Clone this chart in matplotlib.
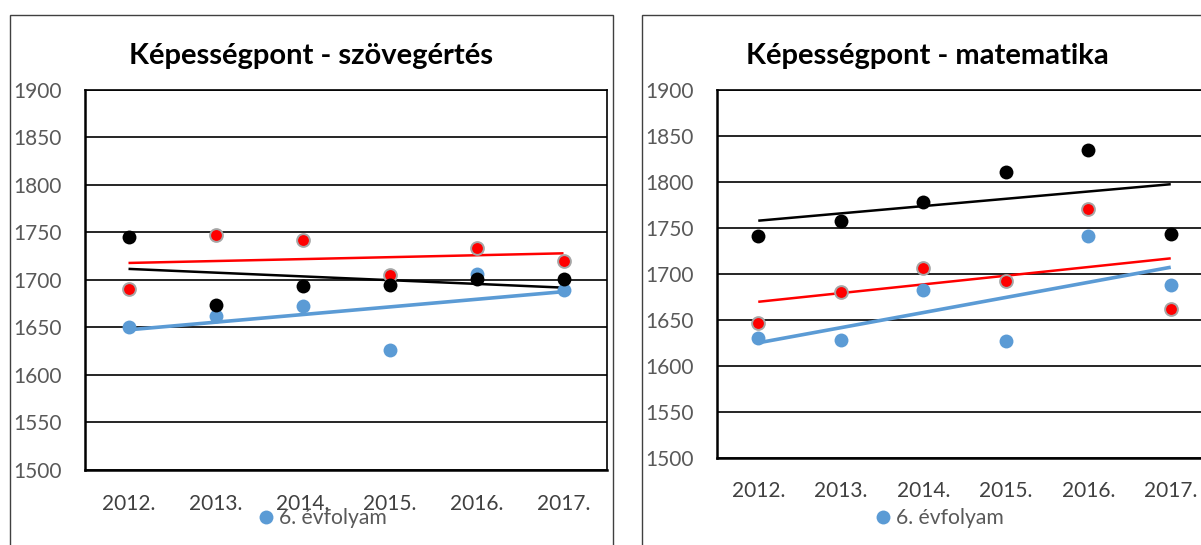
import numpy as np
import matplotlib
matplotlib.use('Agg')
import matplotlib.pyplot as plt
from matplotlib.lines import Line2D
from matplotlib.patches import Rectangle

# Adatok
evek = ['2012.', '2013.', '2014.', '2015.', '2016.', '2017.']

szoveg_6 = [1650, 1662, 1672, 1626, 1706, 1689]
szoveg_8 = [1690, 1747, 1742, 1705, 1733, 1720]
szoveg_10 = [1745, 1674, 1694, 1695, 1701, 1701]

matek_6 = [1630, 1628, 1683, 1627, 1742, 1688]
matek_8 = [1647, 1681, 1707, 1693, 1771, 1662]
matek_10 = [1741, 1758, 1779, 1811, 1835, 1744]

cimek = ['Képességpont - szövegértés', 'Képességpont - matematika']
jelmagyarazat = '6. évfolyam'

KEK = '#5B9BD5'
PIROS = '#FF0000'
FEKETE = '#000000'
SZURKE = '#595959'

plt.rcParams['font.family'] = ['Lato', 'DejaVu Sans']

fig = plt.figure(figsize=(12.01, 5.45), dpi=100)

# keretek (diagramterület)
fig.patches.append(Rectangle((9.5 / 1201, -0.1), (613 - 9.5) / 1201, 1.1 - 15 / 545,
                             transform=fig.transFigure, fill=False, ec='#404040', lw=1.0))
fig.patches.append(Rectangle((642 / 1201, -0.1), 0.6, 1.1 - 15 / 545,
                             transform=fig.transFigure, fill=False, ec='#404040', lw=1.0))

ax1 = fig.add_axes([85 / 1201, 1 - 470 / 545, 522 / 1201, (470 - 89.7) / 545])
ax2 = fig.add_axes([717 / 1201, 1 - 457.8 / 545, 495 / 1201, (457.8 - 90.4) / 545])


def rajzol(ax, s6, s8, s10, cim, cim_x, leg_x):
    x = np.arange(len(evek))
    # trendvonalak (lineáris illesztés, mint az Excelben)
    for adat, szin, vastag in [(s6, KEK, 2.6), (s8, PIROS, 1.8), (s10, FEKETE, 1.8)]:
        m, b = np.polyfit(x, adat, 1)
        ax.plot([x[0], x[-1]], [m * x[0] + b, m * x[-1] + b], color=szin, lw=vastag,
                zorder=3, solid_capstyle='butt')
    ax.plot(x, s6, 'o', color=KEK, ms=10, mec='none', zorder=4, clip_on=False)
    ax.plot(x, s8, 'o', color=PIROS, ms=9.2, mec='#A6A6A6', mew=1.4, zorder=5, clip_on=False)
    ax.plot(x, s10, 'o', color=FEKETE, ms=10, mec='none', zorder=6, clip_on=False)

    ax.set_xlim(-0.5, len(evek) - 0.5)
    ax.set_ylim(1500, 1900)
    ax.set_yticks(range(1500, 1901, 50))
    ax.set_xticks(x)
    ax.set_xticklabels(evek)
    ax.grid(axis='y', color='black', lw=1.2, zorder=1)
    ax.set_axisbelow(True)
    ax.tick_params(axis='y', length=0, labelsize=15, labelcolor=SZURKE, pad=17)
    ax.tick_params(axis='x', length=0, labelsize=15, labelcolor='#404040', pad=17)
    for sp in ['left', 'bottom']:
        ax.spines[sp].set_linewidth(1.8)
    for sp in ['top', 'right']:
        ax.spines[sp].set_linewidth(1.2)

    fig.text(cim_x, 1 - 56 / 545, cim, ha='center', va='center', fontsize=21,
             fontweight='bold', color='black')

    kezelo = Line2D([], [], marker='o', ls='', color=KEK, ms=10, mec='none')
    ax.legend([kezelo], [jelmagyarazat], loc='center',
              bbox_to_anchor=(leg_x, 1 - 518 / 545), bbox_transform=fig.transFigure,
              frameon=False, handletextpad=0.0, handlelength=1.2, borderpad=0,
              prop={'size': 15.2}, labelcolor=SZURKE)


rajzol(ax1, szoveg_6, szoveg_8, szoveg_10, cimek[0], 311 / 1201, 320 / 1201)
rajzol(ax2, matek_6, matek_8, matek_10, cimek[1], 927 / 1201, 937 / 1201)

fig.savefig('out.png', dpi=100)
